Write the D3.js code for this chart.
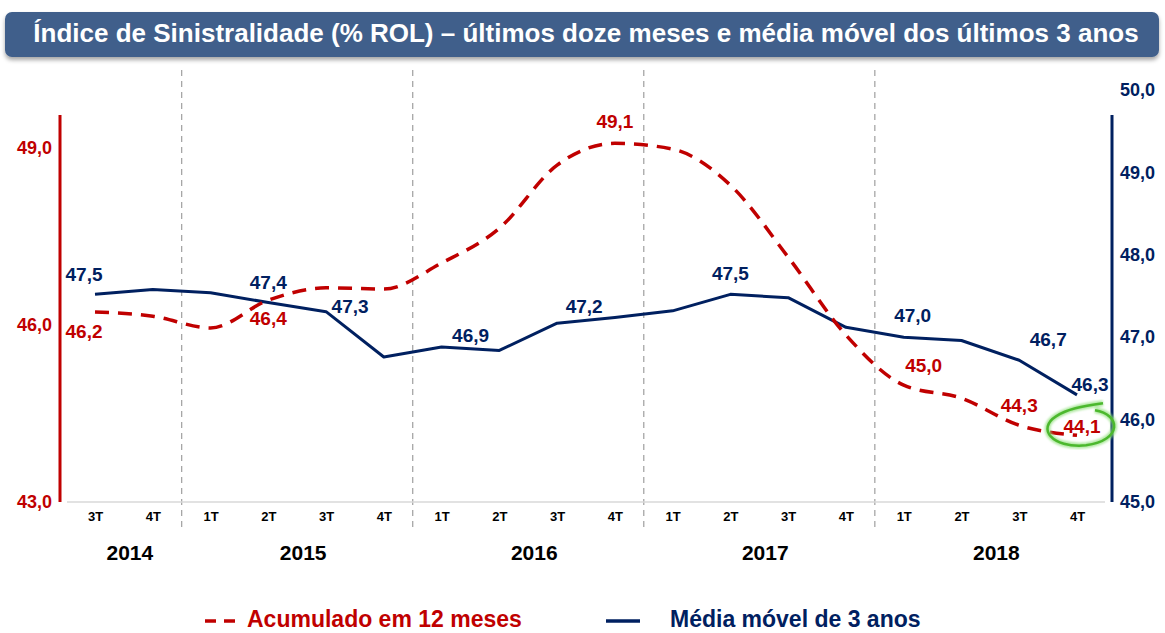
<!DOCTYPE html>
<html>
<head>
<meta charset="utf-8">
<script src="https://cdn.jsdelivr.net/npm/d3@7"></script>
<style>
  body { margin: 0; background: #fff; }
  svg { display: block; font-family: "Liberation Sans", Arial, sans-serif; }
</style>
</head>
<body>
<svg id="chart" width="1165" height="633"></svg>
<script>
// quarters and years
const years = ["2014", "2015", "2016", "2017", "2018"];
const quarters = ["3T", "4T", "1T", "2T", "3T", "4T", "1T", "2T", "3T", "4T", "1T", "2T", "3T", "4T", "1T", "2T", "3T", "4T"];
const quarterYear = ["2014", "2014", "2015", "2015", "2015", "2015", "2016", "2016", "2016", "2016", "2017", "2017", "2017", "2017", "2018", "2018", "2018", "2018"];

// Acumulado em 12 meses (eixo esquerdo)
const acumulado = [46.22, 46.15, 45.95, 46.42, 46.63, 46.61, 47.05, 47.64, 48.71, 49.08, 48.98, 48.37, 47.15, 45.83, 44.98, 44.76, 44.30, 44.13];
// Média móvel de 3 anos (eixo direito)
const mediaMovel = [47.52, 47.58, 47.54, 47.42, 47.31, 46.76, 46.88, 46.84, 47.17, 47.24, 47.32, 47.52, 47.48, 47.12, 47.00, 46.96, 46.72, 46.30];

const leftTicks = [43, 46, 49];
const rightTicks = [45, 46, 47, 48, 49, 50];

// which points get a value label: [index, dx, dy]
const redLabels = [[0, -11, 21], [3, 0, 20], [9, 0, -20], [14, 20, -18], [16, 0, -18], [17, 5, -7]];
const blueLabels = [[0, -11, -18], [3, 0, -19], [4, 24, -4], [6, 29, -10], [8, 27, -15], [11, 0, -19], [14, 9, -20], [16, 29, -19], [17, 13, -9]];

const red = "#C00000";
const navy = "#002060";
const fmt = v => d3.format(".1f")(v).replace(".", ",");

const svg = d3.select("#chart");

// title banner
const defs = svg.append("defs");
const sh = defs.append("filter").attr("id", "shadow").attr("x", "-5%").attr("y", "-20%").attr("width", "110%").attr("height", "160%");
sh.append("feDropShadow").attr("dx", 0).attr("dy", 3).attr("stdDeviation", 2).attr("flood-color", "#000").attr("flood-opacity", 0.35);
const glow = defs.append("filter").attr("id", "glow");
glow.append("feGaussianBlur").attr("stdDeviation", 1.2);

svg.append("rect")
    .attr("x", 5).attr("y", 12).attr("width", 1154).attr("height", 45)
    .attr("rx", 7).attr("fill", "#3F5F8B")
    .attr("filter", "url(#shadow)");
svg.append("text")
    .attr("x", 586).attr("y", 35)
    .attr("text-anchor", "middle").attr("dominant-baseline", "middle")
    .attr("fill", "#fff").attr("font-weight", "bold").attr("font-size", 26)
    .text("Índice de Sinistralidade (% ROL) – últimos doze meses e média móvel dos últimos 3 anos");

const idx = d3.range(quarters.length);
const x = d3.scalePoint().domain(idx).range([95, 1077]);
const yL = d3.scaleLinear().domain([43, 49]).range([502, 148]);
const yR = d3.scaleLinear().domain([45, 50]).range([502, 90]);
const step = x.step();

// year separators
years.slice(1).forEach(yr => {
    const first = quarterYear.indexOf(yr);
    const sx = x(first) - step / 2;
    svg.append("line")
        .attr("x1", sx).attr("x2", sx).attr("y1", 70).attr("y2", 532)
        .attr("stroke", "#A6A6A6").attr("stroke-width", 1.3)
        .attr("stroke-dasharray", "6,5");
});

// baseline
svg.append("line")
    .attr("x1", 67).attr("x2", 1105).attr("y1", yL(43)).attr("y2", yL(43))
    .attr("stroke", "#D9D9D9").attr("stroke-width", 1.5);

// left axis
const axL = svg.append("g").attr("transform", "translate(60,0)")
    .call(d3.axisLeft(yL).tickValues(leftTicks).tickSize(0).tickPadding(8).tickFormat(fmt));
axL.select(".domain").remove();
axL.selectAll("text").attr("fill", red).attr("font-size", 18).attr("font-weight", "bold")
    .attr("font-family", "Liberation Sans, Arial, sans-serif");
svg.append("line").attr("x1", 60).attr("x2", 60).attr("y1", 115).attr("y2", yL(43))
    .attr("stroke", red).attr("stroke-width", 3);

// right axis
const axR = svg.append("g").attr("transform", "translate(1112,0)")
    .call(d3.axisRight(yR).tickValues(rightTicks).tickSize(0).tickPadding(8).tickFormat(fmt));
axR.select(".domain").remove();
axR.selectAll("text").attr("fill", navy).attr("font-size", 18).attr("font-weight", "bold")
    .attr("font-family", "Liberation Sans, Arial, sans-serif");
svg.append("line").attr("x1", 1112).attr("x2", 1112).attr("y1", 115).attr("y2", yR(45))
    .attr("stroke", navy).attr("stroke-width", 3);

// x axis: quarters
const axX = svg.append("g").attr("transform", "translate(0,508)")
    .call(d3.axisBottom(x).tickSize(0).tickPadding(4).tickFormat(i => quarters[i]));
axX.select(".domain").remove();
axX.selectAll("text").attr("fill", "#000").attr("font-size", 13).attr("font-weight", "bold")
    .attr("font-family", "Liberation Sans, Arial, sans-serif");

// years
years.forEach(yr => {
    const ii = idx.filter(i => quarterYear[i] === yr);
    const cx = d3.mean(ii, i => x(i)) + 6;
    svg.append("text")
        .attr("x", cx).attr("y", 554)
        .attr("text-anchor", "middle").attr("dominant-baseline", "middle")
        .attr("font-size", 21).attr("font-weight", "bold").attr("fill", "#000")
        .text(yr);
});

// lines
const lineRed = d3.line().x(i => x(i)).y(i => yL(acumulado[i])).curve(d3.curveMonotoneX);
const lineBlue = d3.line().x(i => x(i)).y(i => yR(mediaMovel[i]));

svg.append("path").attr("d", lineBlue(idx))
    .attr("fill", "none").attr("stroke", navy).attr("stroke-width", 3)
    .attr("stroke-linejoin", "round");
svg.append("path").attr("d", lineRed(idx))
    .attr("fill", "none").attr("stroke", red).attr("stroke-width", 3.5)
    .attr("stroke-dasharray", "14,9");

// labels
redLabels.forEach(([i, dx, dy]) => {
    svg.append("text")
        .attr("x", x(i) + dx).attr("y", yL(acumulado[i]) + dy)
        .attr("text-anchor", "middle").attr("dominant-baseline", "middle")
        .attr("font-size", 19).attr("font-weight", "bold").attr("fill", red)
        .text(fmt(acumulado[i]));
});
blueLabels.forEach(([i, dx, dy]) => {
    svg.append("text")
        .attr("x", x(i) + dx).attr("y", yR(mediaMovel[i]) + dy)
        .attr("text-anchor", "middle").attr("dominant-baseline", "middle")
        .attr("font-size", 19).attr("font-weight", "bold").attr("fill", navy)
        .text(fmt(mediaMovel[i]));
});

// green highlight around last value
const last = acumulado.length - 1;
const ex = x(last) + 4, ey = yL(acumulado[last]) - 9;
const ring = `M${ex + 14},${ey - 16} C${ex + 40},${ey - 12} ${ex + 42},${ey + 14} ${ex + 5},${ey + 19}
                C${ex - 30},${ey + 22} ${ex - 44},${ey + 2} ${ex - 25},${ey - 10}
                C${ex - 14},${ey - 17} ${ex},${ey - 20} ${ex + 22},${ey - 23}`;
svg.append("path").attr("d", ring)
    .attr("fill", "none").attr("stroke", "#8FE07A").attr("stroke-width", 6)
    .attr("filter", "url(#glow)").attr("opacity", 0.7);
svg.append("path").attr("d", ring)
    .attr("fill", "none").attr("stroke", "#4CB82E").attr("stroke-width", 2.5);

// legend
const lg = svg.append("g").attr("transform", "translate(0,621)");
lg.append("line").attr("x1", 205).attr("x2", 237).attr("y1", 0).attr("y2", 0)
    .attr("stroke", red).attr("stroke-width", 3.5).attr("stroke-dasharray", "11,8");
lg.append("text").attr("x", 247).attr("y", 0).attr("dominant-baseline", "middle")
    .attr("font-size", 23).attr("font-weight", "bold").attr("fill", red)
    .text("Acumulado em 12 meses");
lg.append("line").attr("x1", 606).attr("x2", 640).attr("y1", 0).attr("y2", 0)
    .attr("stroke", navy).attr("stroke-width", 3.5);
lg.append("text").attr("x", 670).attr("y", 0).attr("dominant-baseline", "middle")
    .attr("font-size", 23).attr("font-weight", "bold").attr("fill", navy)
    .text("Média móvel de 3 anos");
</script>
</body>
</html>
